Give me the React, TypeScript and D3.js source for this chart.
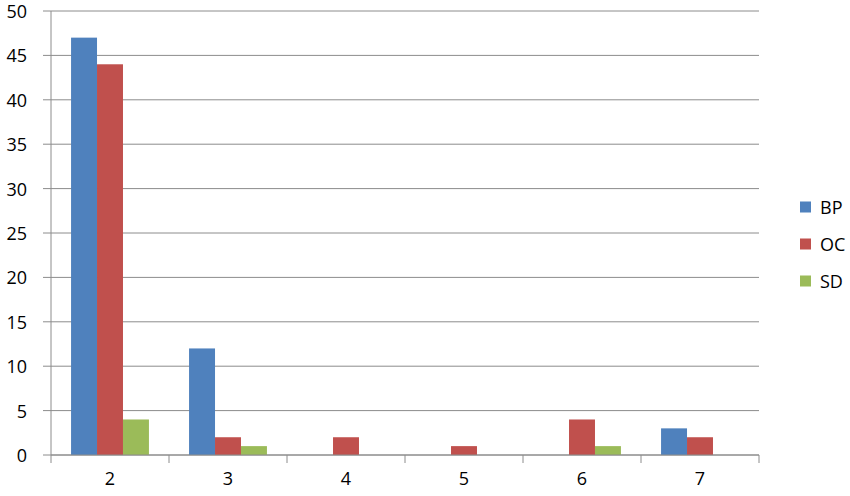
import React from "react";
import * as d3 from "d3";

const categories = ["2", "3", "4", "5", "6", "7"];
const seriesNames = ["BP", "OC", "SD"];
const bpValues = [47, 12, 0, 0, 0, 3];
const ocValues = [44, 2, 2, 1, 4, 2];
const sdValues = [4, 1, 0, 0, 1, 0];
const yTicks = [0, 5, 10, 15, 20, 25, 30, 35, 40, 45, 50];
const colors = ["#4F81BD", "#C0504D", "#9BBB59"];

const W = 850;
const H = 496;
const left = 51;
const right = 759;
const top = 11;
const bottom = 455;
const font = "'Open Sans', 'Liberation Sans', sans-serif";

export default function App() {
  const seriesValues = [bpValues, ocValues, sdValues];
  const x0 = d3.scaleBand<string>().domain(categories).range([left, right]).padding(0);
  const bw = x0.bandwidth();
  const x1 = d3
    .scaleBand<string>()
    .domain(seriesNames)
    .range([bw * 0.17, bw * 0.83])
    .padding(0);
  const y = d3.scaleLinear().domain([0, 50]).range([bottom, top]);
  const grid = "#8C8C8C";

  return (
    <svg width={W} height={H} style={{ position: "absolute", left: 0, top: 0 }}>
      <rect width={W} height={H} fill="#fff" />
      {yTicks.map((t) => (
        <g key={t}>
          <line x1={left - 8} x2={right} y1={y(t)} y2={y(t)} stroke={grid} strokeWidth={1} />
          <text
            x={27}
            y={y(t)}
            textAnchor="end"
            dominantBaseline="central"
            fontFamily={font}
            fontSize={18}
            fill="#000"
          >
            {t}
          </text>
        </g>
      ))}
      {categories.map((c, i) =>
        seriesNames.map((s, j) => {
          const v = seriesValues[j][i];
          if (!v) return null;
          return (
            <rect
              key={c + s}
              x={(x0(c) as number) + (x1(s) as number)}
              y={y(v)}
              width={x1.bandwidth()}
              height={y(0) - y(v)}
              fill={colors[j]}
            />
          );
        })
      )}
      <line x1={left} x2={left} y1={top} y2={bottom + 8} stroke={grid} strokeWidth={1} />
      <line x1={left} x2={right} y1={bottom} y2={bottom} stroke={grid} strokeWidth={1} />
      {categories.map((c) => (
        <line
          key={"t" + c}
          x1={(x0(c) as number) + bw}
          x2={(x0(c) as number) + bw}
          y1={bottom}
          y2={bottom + 8}
          stroke={grid}
        />
      ))}
      {categories.map((c) => (
        <text
          key={"l" + c}
          x={(x0(c) as number) + bw / 2}
          y={478}
          textAnchor="middle"
          dominantBaseline="central"
          fontFamily={font}
          fontSize={18}
          fill="#000"
        >
          {c}
        </text>
      ))}
      {seriesNames.map((s, j) => (
        <g key={"lg" + s} transform={`translate(800, ${207 + j * 37})`}>
          <rect x={0} y={-5.5} width={11} height={11} fill={colors[j]} />
          <text x={20} y={0} dominantBaseline="central" fontFamily={font} fontSize={18} fill="#000">
            {s}
          </text>
        </g>
      ))}
    </svg>
  );
}
